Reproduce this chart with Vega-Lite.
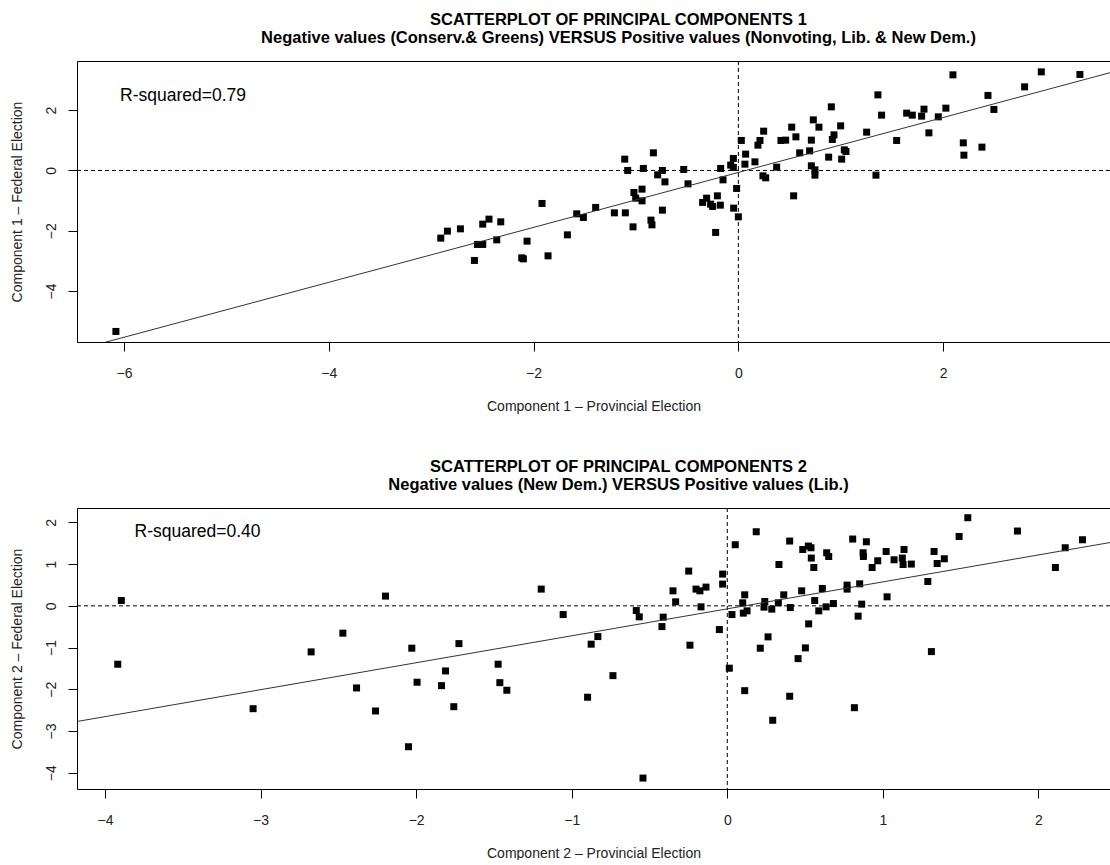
{
  "$schema": "https://vega.github.io/schema/vega-lite/v6.json",
  "padding": {"left": 10, "top": 12, "right": 0, "bottom": 0},
  "background": "white",
  "config": {
    "view": {"stroke": null},
    "font": "Liberation Sans",
    "axis": {
      "grid": false,
      "domainColor": "#000000",
      "tickColor": "#000000",
      "tickSize": 9,
      "labelFontSize": 14,
      "labelColor": "#222222",
      "titleFontSize": 14,
      "titleFontWeight": "normal",
      "titleColor": "#222222",
      "labelPadding": 15,
      "labelFlush": false,
      "labelOverlap": false
    },
    "axisY": {"labelAngle": 270, "labelAlign": "center", "labelBaseline": "bottom", "labelPadding": 10, "titlePadding": 20},
    "axisX": {"titlePadding": 19},
    "title": {"fontSize": 16.5, "fontWeight": "bold", "color": "#000000", "lineHeight": 18, "anchor": "middle", "dx": 25, "offset": 14}
  },
  "datasets": {
    "pc1": [
      {"x": -6.08, "y": -5.34},
      {"x": -2.907, "y": -2.245}, {"x": -2.842, "y": -2.013}, {"x": -2.715, "y": -1.937}, {"x": -2.497, "y": -1.781},
      {"x": -2.436, "y": -1.615}, {"x": -2.321, "y": -1.705}, {"x": -2.549, "y": -2.454}, {"x": -2.497, "y": -2.454},
      {"x": -2.36, "y": -2.302}, {"x": -2.578, "y": -2.985}, {"x": -2.116, "y": -2.899}, {"x": -2.1, "y": -2.932},
      {"x": -2.064, "y": -2.345}, {"x": -1.859, "y": -2.832}, {"x": -1.918, "y": -1.095}, {"x": -1.67, "y": -2.136},
      {"x": -1.579, "y": -1.439}, {"x": -1.514, "y": -1.559}, {"x": -1.394, "y": -1.227}, {"x": -1.211, "y": -1.406},
      {"x": -1.104, "y": -1.406}, {"x": -1.029, "y": -1.871}, {"x": -1.11, "y": 0.375}, {"x": -1.081, "y": 0.0},
      {"x": -0.928, "y": 0.066}, {"x": -0.83, "y": 0.584}, {"x": -0.742, "y": 0.0}, {"x": -0.788, "y": -0.146},
      {"x": -0.717, "y": -0.378}, {"x": -1.02, "y": -0.73}, {"x": -1.003, "y": -0.919}, {"x": -0.941, "y": -0.62},
      {"x": -0.941, "y": -1.008}, {"x": -0.854, "y": -1.648}, {"x": -0.844, "y": -1.804}, {"x": -0.742, "y": -1.317},
      {"x": -0.534, "y": 0.033}, {"x": -0.492, "y": -0.444}, {"x": -0.349, "y": -1.061}, {"x": -0.31, "y": -0.919},
      {"x": -0.271, "y": -1.118}, {"x": -0.251, "y": -1.194}, {"x": -0.205, "y": -0.842}, {"x": -0.176, "y": -1.151},
      {"x": -0.222, "y": -2.056}, {"x": -0.173, "y": 0.066}, {"x": -0.15, "y": -0.312}, {"x": -0.075, "y": 0.176},
      {"x": -0.049, "y": 0.398}, {"x": -0.049, "y": 0.1}, {"x": -0.017, "y": -0.597}, {"x": -0.046, "y": -1.25},
      {"x": 0.0, "y": -1.539}, {"x": 0.029, "y": 0.995}, {"x": 0.071, "y": 0.541}, {"x": 0.064, "y": 0.209},
      {"x": 0.162, "y": 0.285},
      {"x": 0.211, "y": 0.995}, {"x": 0.191, "y": 0.839}, {"x": 0.247, "y": 1.303}, {"x": 0.24, "y": -0.179},
      {"x": 0.267, "y": -0.245}, {"x": 0.374, "y": 0.109}, {"x": 0.54, "y": -0.842}, {"x": 0.416, "y": 0.995},
      {"x": 0.462, "y": 1.005}, {"x": 0.521, "y": 1.436}, {"x": 0.562, "y": 1.114}, {"x": 0.599, "y": 0.584},
      {"x": 0.696, "y": 0.65}, {"x": 0.713, "y": 1.005}, {"x": 0.732, "y": 1.678}, {"x": 0.787, "y": 1.436},
      {"x": 0.713, "y": 0.153}, {"x": 0.748, "y": 0.02}, {"x": 0.748, "y": -0.156}, {"x": 0.882, "y": 0.441},
      {"x": 0.908, "y": 2.109}, {"x": 0.918, "y": 1.028}, {"x": 0.934, "y": 1.181}, {"x": 0.999, "y": 1.479},
      {"x": 1.009, "y": 0.375}, {"x": 1.035, "y": 0.683}, {"x": 1.051, "y": 0.63}, {"x": 1.253, "y": 1.27},
      {"x": 1.344, "y": -0.156}, {"x": 1.363, "y": 2.507}, {"x": 1.399, "y": 1.834}, {"x": 1.546, "y": 0.995},
      {"x": 1.644, "y": 1.9}, {"x": 1.699, "y": 1.834}, {"x": 1.79, "y": 1.801}, {"x": 1.813, "y": 2.033},
      {"x": 1.861, "y": 1.247}, {"x": 1.953, "y": 1.778}, {"x": 2.027, "y": 2.066}, {"x": 2.096, "y": 3.171},
      {"x": 2.197, "y": 0.915}, {"x": 2.203, "y": 0.507}, {"x": 2.379, "y": 0.773}, {"x": 2.438, "y": 2.488},
      {"x": 2.496, "y": 2.023}, {"x": 2.796, "y": 2.773}, {"x": 2.959, "y": 3.27}, {"x": 3.336, "y": 3.184}
    ],
    "pc2": [
      {"x": -3.895, "y": 0.127}, {"x": -3.918, "y": -1.399}, {"x": -3.048, "y": -2.465}, {"x": -2.675, "y": -1.104},
      {"x": -2.471, "y": -0.655}, {"x": -2.383, "y": -1.968}, {"x": -2.261, "y": -2.52}, {"x": -2.197, "y": 0.233},
      {"x": -2.049, "y": -3.377}, {"x": -2.028, "y": -1.015}, {"x": -1.994, "y": -1.831},
      {"x": -1.837, "y": -1.913}, {"x": -1.811, "y": -1.56}, {"x": -1.758, "y": -2.417}, {"x": -1.725, "y": -0.905},
      {"x": -1.473, "y": -1.399}, {"x": -1.462, "y": -1.841}, {"x": -1.417, "y": -2.023}, {"x": -1.196, "y": 0.401},
      {"x": -1.055, "y": -0.209}, {"x": -0.898, "y": -2.191}, {"x": -0.875, "y": -0.919}, {"x": -0.832, "y": -0.737},
      {"x": -0.735, "y": -1.673}, {"x": -0.585, "y": -0.113}, {"x": -0.566, "y": -0.264}, {"x": -0.542, "y": -4.128},
      {"x": -0.412, "y": -0.271}, {"x": -0.42, "y": -0.497}, {"x": -0.349, "y": 0.36}, {"x": -0.332, "y": 0.096},
      {"x": -0.248, "y": 0.833}, {"x": -0.201, "y": 0.401}, {"x": -0.176, "y": 0.36}, {"x": -0.137, "y": 0.449},
      {"x": -0.169, "y": -0.024}, {"x": -0.24, "y": -0.943}, {"x": -0.051, "y": -0.569}, {"x": -0.03, "y": 0.761},
      {"x": -0.03, "y": 0.521}, {"x": 0.013, "y": -1.495}, {"x": 0.051, "y": 1.464}, {"x": 0.03, "y": -0.209},
      {"x": 0.112, "y": 0.264}, {"x": 0.099, "y": 0.072}, {"x": 0.103, "y": -0.175}, {"x": 0.127, "y": -0.12},
      {"x": 0.112, "y": -2.033}, {"x": 0.186, "y": 1.776}, {"x": 0.212, "y": -1.015},
      {"x": 0.241, "y": 0.103}, {"x": 0.236, "y": -0.031}, {"x": 0.286, "y": -0.079}, {"x": 0.262, "y": -0.744},
      {"x": 0.292, "y": -2.743}, {"x": 0.328, "y": 0.072}, {"x": 0.332, "y": 0.991}, {"x": 0.363, "y": 0.264},
      {"x": 0.401, "y": 1.553}, {"x": 0.405, "y": -0.041}, {"x": 0.401, "y": -2.167}, {"x": 0.455, "y": -1.265},
      {"x": 0.502, "y": -1.008}, {"x": 0.478, "y": 0.36}, {"x": 0.485, "y": 1.351}, {"x": 0.521, "y": 1.433},
      {"x": 0.538, "y": 1.392}, {"x": 0.54, "y": 1.145}, {"x": 0.556, "y": 0.919}, {"x": 0.523, "y": -0.432},
      {"x": 0.562, "y": 0.127}, {"x": 0.588, "y": -0.12}, {"x": 0.611, "y": 0.415}, {"x": 0.635, "y": -0.024},
      {"x": 0.639, "y": 1.272}, {"x": 0.652, "y": 1.183}, {"x": 0.682, "y": 0.055}, {"x": 0.77, "y": 0.497},
      {"x": 0.77, "y": 0.401}, {"x": 0.806, "y": 1.601}, {"x": 0.817, "y": -2.441}, {"x": 0.841, "y": -0.247},
      {"x": 0.851, "y": 0.528}, {"x": 0.864, "y": 0.041}, {"x": 0.873, "y": 1.272}, {"x": 0.875, "y": 1.183},
      {"x": 0.894, "y": 1.536}, {"x": 0.931, "y": 0.919}, {"x": 0.967, "y": 1.08}, {"x": 1.027, "y": 0.216},
      {"x": 1.021, "y": 1.303}, {"x": 1.072, "y": 1.104}, {"x": 1.125, "y": 1.145}, {"x": 1.13, "y": 0.991},
      {"x": 1.136, "y": 1.351}, {"x": 1.183, "y": 1.001}, {"x": 1.289, "y": 0.583}, {"x": 1.312, "y": -1.097},
      {"x": 1.329, "y": 1.303}, {"x": 1.349, "y": 1.015}, {"x": 1.395, "y": 1.128}, {"x": 1.49, "y": 1.663},
      {"x": 1.546, "y": 2.112}, {"x": 1.865, "y": 1.793}, {"x": 2.109, "y": 0.919}, {"x": 2.172, "y": 1.392},
      {"x": 2.283, "y": 1.584}
    ],
    "fit1": [{"x": -6.46, "y": -5.951}, {"x": 3.63, "y": 3.241}],
    "fit2": [{"x": -4.18, "y": -2.772}, {"x": 2.46, "y": 1.517}],
    "lab1": [{"x": -6.04, "y": 2.47, "label": "R-squared=0.79"}],
    "lab2": [{"x": -3.81, "y": 1.77, "label": "R-squared=0.40"}],
    "ref": [{"v": 0}]
  },
  "spacing": 46,
  "vconcat": [
    {
      "width": 1033,
      "height": 281,
      "title": {"text": ["SCATTERPLOT OF PRINCIPAL COMPONENTS 1", "Negative values (Conserv.& Greens) VERSUS Positive values (Nonvoting, Lib. & New Dem.)"]},
      "resolve": {"axis": {"x": "independent"}},
      "layer": [
        {
          "data": {"name": "pc1"},
          "mark": {"type": "point", "shape": "square", "filled": true, "size": 49, "color": "#000000", "opacity": 1},
          "encoding": {
            "x": {"field": "x", "type": "quantitative", "scale": {"domain": [-6.46, 3.63], "nice": false, "zero": false}, "axis": {"orient": "bottom", "values": [-6, -4, -2, 0, 2], "title": "Component 1 \u2013 Provincial Election"}},
            "y": {"field": "y", "type": "quantitative", "scale": {"domain": [-5.69, 3.63], "nice": false, "zero": false}, "axis": {"orient": "left", "values": [-4, -2, 0, 2], "title": "Component 1 \u2013 Federal Election"}}
          }
        },
        {
          "data": {"name": "ref"},
          "mark": {"type": "rule", "strokeDash": [4, 3], "color": "#000000", "strokeWidth": 1},
          "encoding": {"x": {"field": "v", "type": "quantitative", "axis": null}}
        },
        {
          "data": {"name": "ref"},
          "mark": {"type": "rule", "strokeDash": [4, 3], "color": "#000000", "strokeWidth": 1},
          "encoding": {"y": {"field": "v", "type": "quantitative"}}
        },
        {
          "data": {"name": "lab1"},
          "mark": {"type": "text", "align": "left", "baseline": "middle", "fontSize": 17.5, "color": "#000000"},
          "encoding": {
            "x": {"field": "x", "type": "quantitative", "axis": null},
            "y": {"field": "y", "type": "quantitative"},
            "text": {"field": "label"}
          }
        },
        {
          "data": {"name": "fit1"},
          "mark": {"type": "line", "color": "#333333", "strokeWidth": 1, "clip": true},
          "encoding": {
            "x": {"field": "x", "type": "quantitative", "axis": {"orient": "top", "labels": false, "ticks": false, "title": null, "domain": true}},
            "y": {"field": "y", "type": "quantitative"}
          }
        }
      ]
    },
    {
      "width": 1033,
      "height": 281,
      "title": {"text": ["SCATTERPLOT OF PRINCIPAL COMPONENTS 2", "Negative values (New Dem.) VERSUS Positive values (Lib.)"]},
      "resolve": {"axis": {"x": "independent"}},
      "layer": [
        {
          "data": {"name": "pc2"},
          "mark": {"type": "point", "shape": "square", "filled": true, "size": 49, "color": "#000000", "opacity": 1},
          "encoding": {
            "x": {"field": "x", "type": "quantitative", "scale": {"domain": [-4.18, 2.46], "nice": false, "zero": false}, "axis": {"orient": "bottom", "values": [-4, -3, -2, -1, 0, 1, 2], "title": "Component 2 \u2013 Provincial Election"}},
            "y": {"field": "y", "type": "quantitative", "scale": {"domain": [-4.39, 2.345], "nice": false, "zero": false}, "axis": {"orient": "left", "values": [-4, -3, -2, -1, 0, 1, 2], "title": "Component 2 \u2013 Federal Election"}}
          }
        },
        {
          "data": {"name": "ref"},
          "mark": {"type": "rule", "strokeDash": [4, 3], "color": "#000000", "strokeWidth": 1},
          "encoding": {"x": {"field": "v", "type": "quantitative", "axis": null}}
        },
        {
          "data": {"name": "ref"},
          "mark": {"type": "rule", "strokeDash": [4, 3], "color": "#000000", "strokeWidth": 1},
          "encoding": {"y": {"field": "v", "type": "quantitative"}}
        },
        {
          "data": {"name": "lab2"},
          "mark": {"type": "text", "align": "left", "baseline": "middle", "fontSize": 17.5, "color": "#000000"},
          "encoding": {
            "x": {"field": "x", "type": "quantitative", "axis": null},
            "y": {"field": "y", "type": "quantitative"},
            "text": {"field": "label"}
          }
        },
        {
          "data": {"name": "fit2"},
          "mark": {"type": "line", "color": "#333333", "strokeWidth": 1, "clip": true},
          "encoding": {
            "x": {"field": "x", "type": "quantitative", "axis": {"orient": "top", "labels": false, "ticks": false, "title": null, "domain": true}},
            "y": {"field": "y", "type": "quantitative"}
          }
        }
      ]
    }
  ]
}
